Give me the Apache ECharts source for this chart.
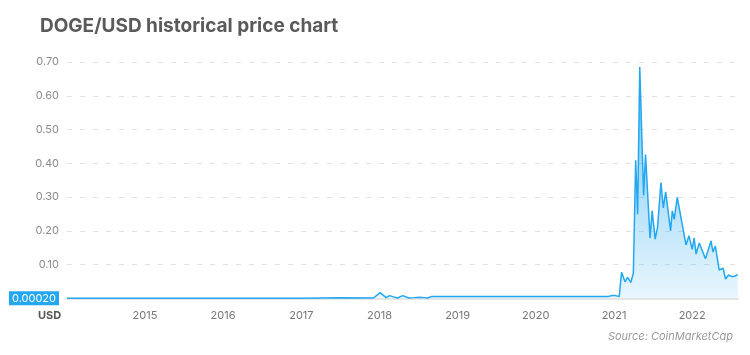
<!DOCTYPE html>
<html>
<head>
<meta charset="utf-8">
<script src="https://cdn.jsdelivr.net/npm/echarts@6/dist/echarts.min.js"></script>
<style>
html,body{margin:0;padding:0;background:#fff;}
#chart{width:750px;height:355px;}
</style>
</head>
<body>
<div id="chart"></div>
<script>
// Dates and DOGE/USD prices
const dates = [
  '2014-01-02','2014-07-01','2015-01-01','2015-07-01','2016-01-01','2016-07-01','2017-01-01','2017-07-01','2017-12-04',
  '2018-01-04','2018-02-01','2018-02-17','2018-03-04','2018-03-25','2018-04-20','2018-05-18','2018-06-13','2018-07-06','2018-07-30','2018-08-14','2018-08-30',
  '2019-01-01','2019-07-01','2020-01-01','2020-07-01','2020-12-01','2020-12-24',
  '2021-01-05','2021-01-25','2021-02-05','2021-02-21','2021-03-05','2021-03-20','2021-04-01','2021-04-12','2021-04-21','2021-05-01',
  '2021-05-19','2021-05-28','2021-06-18','2021-06-28','2021-07-12','2021-07-23','2021-07-31','2021-08-08','2021-08-19','2021-08-30',
  '2021-09-22','2021-09-30','2021-10-09','2021-10-23','2021-11-09','2021-12-03','2021-12-17','2022-01-01','2022-01-10','2022-01-19',
  '2022-02-03','2022-03-04','2022-03-30','2022-04-08','2022-04-19','2022-05-07','2022-05-25','2022-06-06','2022-06-20','2022-07-05',
  '2022-07-20','2022-08-02'
];
const prices = [
  0.0005,0.0003,0.0002,0.0002,0.0002,0.0002,0.0003,0.0015,0.001,
  0.017,0.002,0.008,0.005,0.001,0.008,0.001,0.002,0.003,0.002,0.001,0.005,
  0.005,0.005,0.005,0.005,0.005,0.008,
  0.008,0.005,0.077,0.049,0.062,0.047,0.074,0.409,0.249,0.685,
  0.305,0.426,0.179,0.259,0.175,0.210,0.205,0.343,0.268,0.315,
  0.200,0.259,0.234,0.299,0.241,0.158,0.185,0.145,0.179,0.131,
  0.164,0.117,0.170,0.137,0.155,0.084,0.089,0.057,0.069,0.064,
  0.066,0.070
];
const yTicks = [0, 0.1, 0.2, 0.3, 0.4, 0.5, 0.6, 0.7];
const firstLabel = '0.00020';

const chart = echarts.init(document.getElementById('chart'));
const seriesData = dates.map((d, i) => [d, prices[i]]);
const blue = '#22a7f0';

chart.setOption({
  animation: false,
  backgroundColor: '#fff',
  title: {
    text: 'DOGE/USD historical price chart',
    left: 35, top: 12,
    textStyle: {fontFamily: 'Inter', fontWeight: 'bold', fontSize: 19, color: '#5a5a5a'}
  },
  graphic: [
    {type: 'text', left: 38, top: 310, style: {text: 'USD', fontFamily: 'Inter', fontWeight: 'bold', fontSize: 11, fill: '#555'}},
    {type: 'text', right: 17, top: 331, style: {text: 'Source: CoinMarketCap', fontFamily: 'Inter', fontStyle: 'italic', fontSize: 11, fill: '#9a9a9a'}}
  ],
  grid: {left: 67, right: 12, top: 62, bottom: 56.7},
  xAxis: {
    type: 'time',
    min: '2014-01-02',
    max: '2022-08-03',
    splitNumber: 10,
    axisLine: {show: true, lineStyle: {color: '#e6e6e6', width: 2}},
    axisTick: {show: false},
    splitLine: {show: false},
    axisLabel: {
      margin: 12,
      color: '#777', fontFamily: 'Inter', fontSize: 11,
      formatter: {year: '{yyyy}', month: '', day: '', hour: '', minute: '', second: '', millisecond: ''}
    }
  },
  yAxis: {
    type: 'value',
    min: yTicks[0], max: yTicks[yTicks.length - 1], interval: 0.1,
    axisLine: {show: false},
    axisTick: {show: false},
    splitLine: {show: true, lineStyle: {color: '#e2e2e2', type: [5, 8], width: 1}},
    axisLabel: {
      margin: 8,
      color: '#8a8a8a', fontFamily: 'Inter', fontSize: 11,
      formatter: v => v === 0 ? '{hl|' + firstLabel + '}' : v.toFixed(2),
      rich: {hl: {backgroundColor: blue, color: '#fff', fontFamily: 'Inter', fontSize: 11, padding: [2, 3, 1, 3]}}
    }
  },
  series: [{
    type: 'line',
    data: seriesData,
    showSymbol: false,
    symbol: 'none',
    lineStyle: {color: blue, width: 1.5},
    areaStyle: {
      opacity: 1,
      color: new echarts.graphic.LinearGradient(0, 0, 0, 1, [
        {offset: 0, color: 'rgba(34,167,240,0.65)'},
        {offset: 1, color: 'rgba(34,167,240,0.1)'}
      ])
    }
  }]
});
</script>
</body>
</html>
